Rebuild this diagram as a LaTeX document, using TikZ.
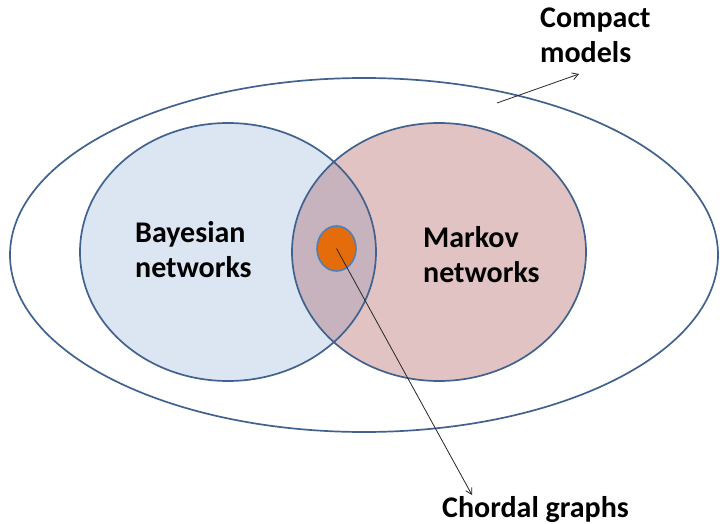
\documentclass[tikz,border=0pt]{standalone}
\usepackage{fontspec}
\setmainfont{Carlito}
\usetikzlibrary{arrows.meta,shapes.geometric}
\definecolor{rim}{HTML}{41628F}
\definecolor{bnfill}{HTML}{DCE6F2}
\definecolor{mnfill}{HTML}{E2C3C3}
\definecolor{bothfill}{HTML}{C6B3BE}
\definecolor{chordfill}{HTML}{E46C0A}
\definecolor{chordrim}{HTML}{4F7FB8}
\begin{document}
\begin{tikzpicture}[x=1pt,y=-1pt,
  setline/.style={draw=rim, line width=1.7pt},
  label/.style={font=\fontsize{30}{35}\selectfont\bfseries, align=left, inner sep=0pt, anchor=north west},
  pointer/.style={draw=black!85, line width=0.8pt, -{Straight Barb[length=6pt,width=7pt]}}]
\useasboundingbox (0,0) rectangle (720,524);

% fills of the two overlapping classes and their common part
\fill[bnfill] (228,252) ellipse [x radius=148pt, y radius=129pt];
\fill[mnfill] (439,252) ellipse [x radius=147pt, y radius=129pt];
\begin{scope}
  \clip (228,252) ellipse [x radius=148pt, y radius=129pt];
  \fill[bothfill] (439,252) ellipse [x radius=147pt, y radius=129pt];
\end{scope}

% outlines
\draw[setline] (364,255) ellipse [x radius=354pt, y radius=177pt];
\draw[setline] (228,252) ellipse [x radius=148pt, y radius=129pt];
\draw[setline] (439,252) ellipse [x radius=147pt, y radius=129pt];

% chordal graphs
\node[ellipse, fill=chordfill, draw=chordrim, line width=1.6pt,
      minimum width=39pt, minimum height=45pt, inner sep=0pt] (chord) at (336.5,248.5) {};

% labels
\node[label] (bn) at (135,221) {Bayesian\\networks};
\node[label] (mn) at (423,226) {Markov\\networks};
\node[label] (cm) at (540,8) {Compact\\models};
\node[label] (cg) at (442,496) {Chordal graphs};

% pointers
\coordinate (cmtail) at (497,103);
\coordinate (cmtip) at (579,74);
\coordinate (cgtip) at (472,495);
\draw[pointer] (cmtail) -- (cmtip);
\draw[pointer] (chord.center) -- (cgtip);
\end{tikzpicture}
\end{document}
